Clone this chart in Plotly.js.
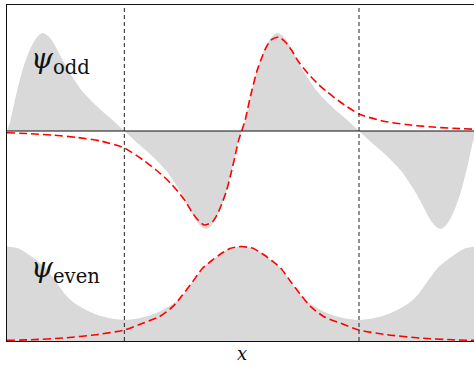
<!DOCTYPE html>
<html>
<head>
<meta charset="utf-8">
<script src="https://cdn.plot.ly/plotly-3.0.1.min.js"></script>
<style>
  html, body { margin: 0; padding: 0; background: #fff; overflow: hidden; }
  #chart { width: 474px; height: 366px; }
</style>
</head>
<body>
<div id="chart"></div>
<script>
// x in units of the lattice period, cell boundaries at +-0.5

// odd band (grey, periodic)
var xOdd = [-1, -0.985, -0.97, -0.955, -0.935, -0.915, -0.895, -0.875, -0.85, -0.83, -0.81, -0.79, -0.77, -0.74, -0.71, -0.68, -0.64, -0.60, -0.56, -0.53, -0.5,
  -0.47, -0.44, -0.40, -0.36, -0.32, -0.29, -0.26, -0.23, -0.21, -0.19, -0.17, -0.15, -0.125, -0.105, -0.085, -0.065, -0.045, -0.03, -0.015, 0,
  0.015, 0.03, 0.045, 0.065, 0.085, 0.105, 0.125, 0.15, 0.17, 0.19, 0.21, 0.23, 0.26, 0.29, 0.32, 0.36, 0.40, 0.44, 0.47, 0.5,
  0.53, 0.56, 0.60, 0.64, 0.68, 0.71, 0.74, 0.77, 0.79, 0.81, 0.83, 0.85, 0.875, 0.895, 0.915, 0.935, 0.955, 0.97, 0.985, 1];
var psiOdd = [0, 0.11, 0.27, 0.42, 0.60, 0.74, 0.85, 0.93, 0.98, 0.96, 0.91, 0.83, 0.74, 0.61, 0.50, 0.40, 0.30, 0.21, 0.13, 0.065, 0,
  -0.065, -0.13, -0.21, -0.30, -0.40, -0.50, -0.61, -0.74, -0.83, -0.91, -0.96, -0.98, -0.93, -0.85, -0.74, -0.60, -0.42, -0.27, -0.11, 0,
  0.11, 0.27, 0.42, 0.60, 0.74, 0.85, 0.93, 0.98, 0.96, 0.91, 0.83, 0.74, 0.61, 0.50, 0.40, 0.30, 0.21, 0.13, 0.065, 0,
  -0.065, -0.13, -0.21, -0.30, -0.40, -0.50, -0.61, -0.74, -0.83, -0.91, -0.96, -0.98, -0.93, -0.85, -0.74, -0.60, -0.42, -0.27, -0.11, 0];

// localized odd function (red dashed)
var xWOdd = [-1, -0.9, -0.8, -0.7, -0.6, -0.5, -0.42, -0.365, -0.33, -0.30, -0.27, -0.24, -0.215, -0.19, -0.16, -0.125, -0.105, -0.085, -0.065, -0.045, -0.03, -0.015, 0,
  0.015, 0.03, 0.045, 0.065, 0.085, 0.105, 0.125, 0.16, 0.19, 0.215, 0.24, 0.27, 0.30, 0.33, 0.365, 0.42, 0.5, 0.6, 0.7, 0.8, 0.9, 1];
var wOdd = [-0.017, -0.027, -0.042, -0.065, -0.10, -0.17, -0.29, -0.39, -0.46, -0.53, -0.61, -0.70, -0.80, -0.88, -0.94, -0.91, -0.84, -0.73, -0.60, -0.42, -0.27, -0.11, 0,
  0.11, 0.27, 0.42, 0.60, 0.73, 0.84, 0.91, 0.94, 0.88, 0.80, 0.70, 0.61, 0.53, 0.46, 0.39, 0.29, 0.17, 0.10, 0.065, 0.042, 0.027, 0.017];

// even band (grey, periodic)
var xEven = [-1, -0.95, -0.905, -0.87, -0.835, -0.79, -0.75, -0.71, -0.65, -0.60, -0.55, -0.5,
  -0.45, -0.40, -0.35, -0.29, -0.25, -0.21, -0.165, -0.13, -0.095, -0.05, 0,
  0.05, 0.095, 0.13, 0.165, 0.21, 0.25, 0.29, 0.35, 0.40, 0.45, 0.5,
  0.55, 0.60, 0.65, 0.71, 0.75, 0.79, 0.835, 0.87, 0.905, 0.95, 1];
var psiEven = [0.945, 0.925, 0.86, 0.80, 0.73, 0.59, 0.46, 0.375, 0.295, 0.25, 0.222, 0.21,
  0.222, 0.25, 0.295, 0.375, 0.46, 0.59, 0.73, 0.80, 0.86, 0.925, 0.945,
  0.925, 0.86, 0.80, 0.73, 0.59, 0.46, 0.375, 0.295, 0.25, 0.222, 0.21,
  0.222, 0.25, 0.295, 0.375, 0.46, 0.59, 0.73, 0.80, 0.86, 0.925, 0.945];

// localized even function (red dashed)
var xWEven = [-1, -0.9, -0.76, -0.62, -0.5, -0.422, -0.351, -0.294, -0.252, -0.209, -0.167, -0.13, -0.096, -0.05, 0,
  0.05, 0.096, 0.13, 0.167, 0.209, 0.252, 0.294, 0.351, 0.422, 0.5, 0.62, 0.76, 0.9, 1];
var wEven = [0.006, 0.012, 0.03, 0.063, 0.11, 0.177, 0.243, 0.343, 0.46, 0.593, 0.727, 0.80, 0.86, 0.925, 0.945,
  0.925, 0.86, 0.80, 0.727, 0.593, 0.46, 0.343, 0.243, 0.177, 0.11, 0.063, 0.03, 0.012, 0.006];

var cellEdges = [-0.5, 0.5];

var ODD_BASE = 2.1;   // vertical offset of the upper panel
var GREY = '#d9d9d9';
var RED = '#ff0000';

var shift = function(arr, off) { return arr.map(function(v) { return v + off; }); };

var data = [
  { x: xOdd, y: xOdd.map(function() { return ODD_BASE; }), mode: 'lines',
    line: { width: 0, color: GREY }, hoverinfo: 'skip', showlegend: false },
  { x: xOdd, y: shift(psiOdd, ODD_BASE), mode: 'lines', fill: 'tonexty', fillcolor: GREY,
    line: { width: 0, color: GREY, shape: 'spline', smoothing: 0.8 }, showlegend: false },
  { x: xEven, y: psiEven, mode: 'lines', fill: 'tozeroy', fillcolor: GREY,
    line: { width: 0, color: GREY, shape: 'spline', smoothing: 0.6 }, showlegend: false },
  { x: xWOdd, y: shift(wOdd, ODD_BASE), mode: 'lines',
    line: { color: RED, width: 1.6, dash: '8px,4px', shape: 'spline', smoothing: 0.6 }, showlegend: false },
  { x: xWEven, y: wEven, mode: 'lines',
    line: { color: RED, width: 1.6, dash: '8px,4px', shape: 'spline', smoothing: 0.6 }, showlegend: false }
];

var shapes = cellEdges.map(function(xe) {
  return { type: 'line', xref: 'x', yref: 'paper', x0: xe, x1: xe, y0: 0, y1: 1,
    line: { color: '#222', width: 1, dash: '4px,3px' } };
});
shapes.push({ type: 'line', xref: 'paper', yref: 'y', x0: 0, x1: 1, y0: ODD_BASE, y1: ODD_BASE,
  line: { color: '#111', width: 1.2 } });

var serif = '"DejaVu Serif", "Liberation Serif", serif';

var layout = {
  width: 474, height: 366,
  margin: { l: 7, r: 0, t: 5, b: 25 },
  paper_bgcolor: '#fff', plot_bgcolor: '#fff',
  xaxis: { range: [-1, 0.99], showline: true, mirror: true, linecolor: '#111', linewidth: 1.2,
    showgrid: false, zeroline: false, showticklabels: false, ticks: '' },
  yaxis: { range: [0, 3.36], showline: true, mirror: false, linecolor: '#111', linewidth: 1.2,
    showgrid: false, zeroline: false, showticklabels: false, ticks: '' },
  shapes: shapes,
  annotations: [
    { x: -0.905, y: 2.81, xref: 'x', yref: 'y', xanchor: 'left', yanchor: 'middle', showarrow: false,
      text: '<i>ψ</i><sub>odd</sub>', font: { family: serif, size: 28, color: '#111' } },
    { x: -0.905, y: 0.72, xref: 'x', yref: 'y', xanchor: 'left', yanchor: 'middle', showarrow: false,
      text: '<i>ψ</i><sub>even</sub>', font: { family: serif, size: 28, color: '#111' } },
    { x: 0, y: -0.074, xref: 'x', yref: 'paper', xanchor: 'center', yanchor: 'bottom', showarrow: false,
      text: '<i>x</i>', font: { family: serif, size: 18, color: '#111' } }
  ]
};

Plotly.newPlot('chart', data, layout, { staticPlot: true, displayModeBar: false });
</script>
</body>
</html>
